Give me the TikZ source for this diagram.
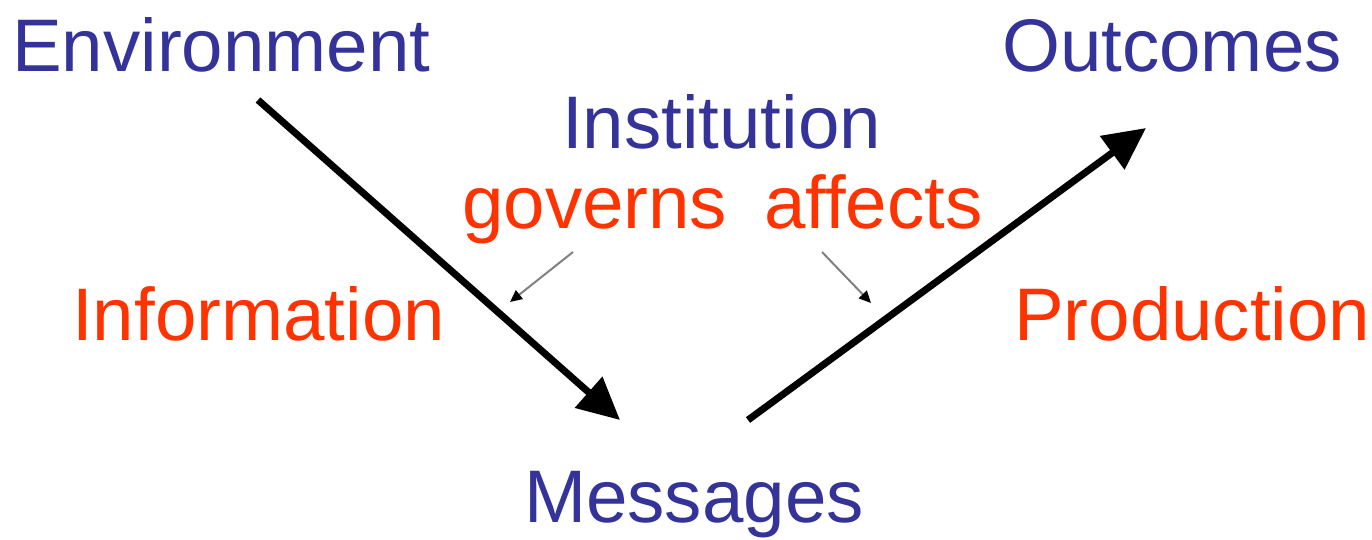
\documentclass[tikz,border=0pt]{standalone}
\usepackage{fontspec}
\setmainfont{Liberation Sans}
\usetikzlibrary{arrows.meta}
\definecolor{tblue}{RGB}{51,51,153}
\definecolor{tred}{RGB}{255,51,0}
\tikzset{
  lbl/.style={anchor=base west, inner sep=0pt, font=\fontsize{74.5}{80}\selectfont},
  bluelbl/.style={lbl, text=tblue},
  redlbl/.style={lbl, text=tred},
  bigarrow/.style={line width=7pt, -{Triangle[length=42pt,width=40pt]}},
  smallarrow/.style={line width=2pt, draw=gray, -{Triangle[length=12pt,width=11pt,color=black,fill=black]}}
}
\begin{document}
\begin{tikzpicture}[x=1pt,y=-1pt]
\useasboundingbox (0,0) rectangle (1372,539);
\node[bluelbl] (env) at (12,71) {Environment};
\node[bluelbl] (out) at (1002,71) {Outcomes};
\node[bluelbl] (inst) at (562,148) {Institution};
\node[redlbl] (gov) at (462,228) {governs};
\node[redlbl] (aff) at (764,228) {affects};
\node[redlbl] (info) at (72,340) {Information};
\node[redlbl] (prod) at (1014,340) {Production};
\node[bluelbl] (msg) at (524,522) {Messages};
\coordinate (a1s) at (258,100);
\coordinate (a1e) at (620,420);
\coordinate (a2s) at (748,420);
\coordinate (a2e) at (1146,128);
\coordinate (s1s) at (573,252);
\coordinate (s1e) at (510,302);
\coordinate (s2s) at (822,252);
\coordinate (s2e) at (871,303);
\draw[bigarrow] (a1s) -- (a1e);
\draw[bigarrow] (a2s) -- (a2e);
\draw[smallarrow] (s1s) -- (s1e);
\draw[smallarrow] (s2s) -- (s2e);
\end{tikzpicture}
\end{document}
